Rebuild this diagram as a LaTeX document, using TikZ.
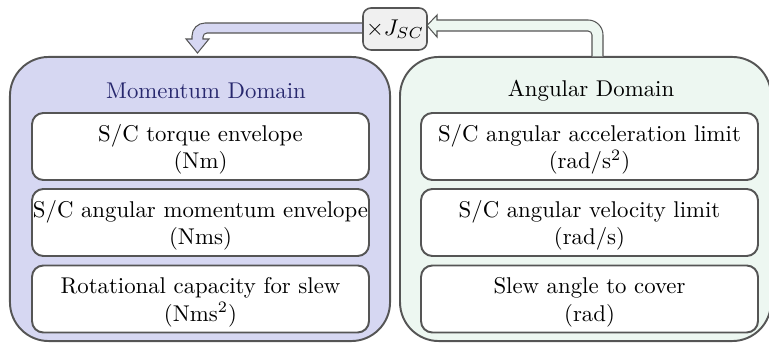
\documentclass[tikz,border=0pt]{standalone}
\usetikzlibrary{calc}
\definecolor{lav}{RGB}{214,215,242}
\definecolor{mint}{RGB}{237,247,241}
\definecolor{bord}{RGB}{85,85,85}
\definecolor{jfill}{RGB}{240,240,240}
\definecolor{navy}{RGB}{40,40,110}
\newcommand\tup{\rule{0pt}{10pt}}
\begin{document}
\begin{tikzpicture}[x=0.4386pt,y=-0.4386pt,
  container/.style={draw=bord, line width=0.85pt, rounded corners=17pt,
    minimum height=124.6pt, inner sep=0pt},
  item/.style={draw=bord, fill=white, line width=0.85pt, rounded corners=5pt,
    minimum width=147.8pt, minimum height=29.4pt, align=center, inner sep=0pt},
  title/.style={inner sep=0pt},
  jbox/.style={draw=bord, fill=jfill, line width=0.7pt, rounded corners=3.5pt,
    minimum width=28.1pt, minimum height=18.4pt, inner sep=0pt},
  fat/.style={draw=bord, line width=0.45pt, line join=miter}
]
\useasboundingbox (0,0) rectangle (769,344);

% containers
\node[container, fill=lav, minimum width=166.7pt] (mom) at (200,199) {};
\node[container, fill=mint, minimum width=162.7pt] (ang) at (585.5,199) {};

% multiplier box position
\coordinate (Jc) at (395,29);
\coordinate (Jw) at (363,29);
\coordinate (ltip) at (197.5,53);
\coordinate (rtip) at (427,25.5);

% fat arrows
\draw[fat, fill=lav] ($(Jw)+(2,-6)$) -- (205,23)
  .. controls (197.8,23) and (192,28.8) .. (192,36)
  -- (192,39) -- (186,39) -- (ltip) -- (209,39) -- (203,39) -- (203,37)
  .. controls (203,34.8) and (204.8,33) .. (207,33) -- ($(Jw)+(2,4)$);
\draw[fat, fill=mint] ($(ang.north)+(6.5,0.5)$) -- (592,35)
  .. controls (592,32.8) and (590.2,31) .. (588,31)
  -- (437,31) -- (437,37) -- (rtip) -- (437,15) -- (437,20) -- (588,20)
  .. controls (596.3,20) and (603,26.7) .. (603,35) -- ($(ang.north)+(17.5,0.5)$);

\node[jbox] (J) at (Jc) {$\times J_{SC}$};

% titles
\node[title, text=navy] (momt) at (206,91) {Momentum Domain};
\node[title] (angt) at (591,91) {Angular Domain};

% items
\node[item] (m1) at (200.5,146.5) {\tup S/C torque envelope\\(Nm)};
\node[item] (m2) at (200.5,222.5) {\tup S/C angular momentum envelope\\(Nms)};
\node[item] (m3) at (200.5,299) {\tup Rotational capacity for slew\\(Nms$^2$)};
\node[item] (a1) at (589.5,146.5) {\tup S/C angular acceleration limit\\(rad/s$^2$)};
\node[item] (a2) at (589.5,222.5) {\tup S/C angular velocity limit\\(rad/s)};
\node[item] (a3) at (589.5,299) {\tup Slew angle to cover\\(rad)};
\end{tikzpicture}
\end{document}
